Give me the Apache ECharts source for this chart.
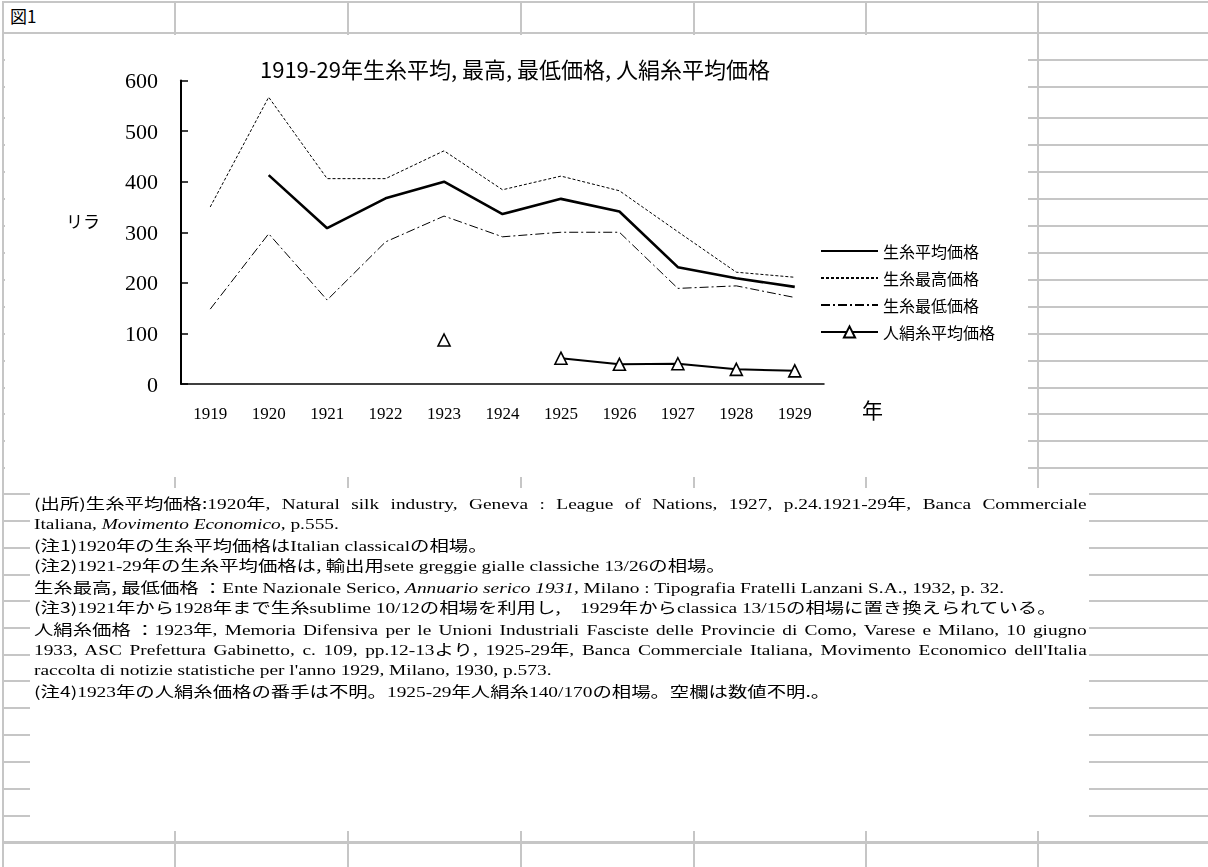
<!DOCTYPE html>
<html><head><meta charset="utf-8">
<script src="https://cdn.jsdelivr.net/npm/echarts@6/dist/echarts.min.js"></script>
<style>
html,body{margin:0;padding:0;background:#fff;}
#wrap{position:relative;width:1208px;height:867px;overflow:hidden;background:#fff;}
.h{position:absolute;background:#c6c6c6;}
.v{position:absolute;background:#c6c6c6;}
#chartbox{position:absolute;left:5px;top:35px;width:1023px;height:442px;background:#fff;}
#notes{position:absolute;left:30px;top:488px;width:1059px;height:343px;background:#fff;}
#notestext{position:absolute;left:4px;top:5px;width:1000px;transform:scale(1.21,0.89);transform-origin:0 0;
  font-family:'Liberation Serif','Noto Sans CJK JP',serif;font-size:16px;color:#000;}
.ln{position:absolute;left:0;height:23.4px;line-height:23.48px;white-space:nowrap;}
.jl{white-space:normal;width:870px;text-align:justify;text-align-last:justify;text-justify:inter-word;}
.g{font-family:'Noto Sans CJK JP',sans-serif;white-space:nowrap;}
.jl .g{display:inline-block;}
#fig{position:absolute;left:10px;top:6px;font-family:'Noto Sans CJK JP',sans-serif;font-size:17px;line-height:20px;color:#000;}
#chart{position:absolute;left:0;top:0;width:1208px;height:867px;}
</style></head>
<body>
<div id="wrap">
  <div id="lines"></div>
  <div id="fig">図1</div>
  <div id="chartbox"></div>
  <div id="notes"><div id="notestext">
<div class="ln jl" style="top:0px"><span class="g">(出所)生糸平均価格:</span>1920<span class="g">年</span>, Natural silk industry, Geneva : League of Nations, 1927, p.24.1921-29<span class="g">年</span>, Banca Commerciale</div>
<div class="ln" style="top:23.48px">Italiana, <i>Movimento Economico</i>, p.555.</div>
<div class="ln" style="top:46.96px"><span class="g">(注1)</span>1920<span class="g">年の生糸平均価格は</span>Italian classical<span class="g">の相場。</span></div>
<div class="ln" style="top:70.44px"><span class="g">(注2)</span>1921-29<span class="g">年の生糸平均価格は, 輸出用</span>sete greggie gialle classiche 13/26<span class="g">の相場。</span></div>
<div class="ln" style="top:93.92px"><span class="g">生糸最高, 最低価格 ：</span>Ente Nazionale Serico, <i>Annuario serico 1931</i>, Milano : Tipografia Fratelli Lanzani S.A., 1932, p. 32.</div>
<div class="ln" style="top:117.4px"><span class="g">(注3)</span>1921<span class="g">年から</span>1928<span class="g">年まで生糸</span>sublime 10/12<span class="g">の相場を利用し,　</span>1929<span class="g">年から</span>classica 13/15<span class="g">の相場に置き換えられている。</span></div>
<div class="ln jl" style="top:140.88px"><span class="g">人絹糸価格 ：</span>1923<span class="g">年</span>, Memoria Difensiva per le Unioni Industriali Fasciste delle Provincie di Como, Varese e Milano, 10 giugno</div>
<div class="ln jl" style="top:164.36px">1933, ASC Prefettura Gabinetto, c. 109, pp.12-13<span class="g">より</span>, 1925-29<span class="g">年</span>, Banca Commerciale Italiana, Movimento Economico dell'Italia</div>
<div class="ln" style="top:187.84px">raccolta di notizie statistiche per l'anno 1929, Milano, 1930, p.573.</div>
<div class="ln" style="top:211.32px"><span class="g">(注4)</span>1923<span class="g">年の人絹糸価格の番手は不明。</span>1925-29<span class="g">年人絹糸</span>140/170<span class="g">の相場。空欄は数値不明.。</span></div>
  </div></div>
  <div id="chart"></div>
</div>
<script>
// ---- data ----
const years = ['1919','1920','1921','1922','1923','1924','1925','1926','1927','1928','1929'];
const silkAvg = [null, 413, 308, 367, 400, 336, 366, 341, 231, 209, 192];
const silkMax = [350, 567, 406, 406, 461, 384, 411, 382, 301, 221, 211];
const silkMin = [148, 297, 166, 281, 332, 291, 300, 300, 189, 194, 171];
const rayonAvg = [null, null, null, null, 87, null, 51, 39, 40, 29, 26];
const seriesNames = ['生糸平均価格','生糸最高価格','生糸最低価格','人絹糸平均価格'];
const titleText = '1919-29年生糸平均, 最高, 最低価格, 人絹糸平均価格';

// ---- spreadsheet grid (decoration) ----
const rowYs = [60, 87, 118, 145, 172, 199, 226, 253, 280, 307, 334, 361, 388, 414, 441, 468,
               494, 521, 548, 575, 601, 628, 655, 681, 708, 735, 762, 789, 816];
const colXs = [175, 348, 521, 694, 866, 1038];
const L = document.getElementById('lines');
function addDiv(cls, l, t, w, h){ const d=document.createElement('div'); d.className=cls;
  d.style.left=l+'px'; d.style.top=t+'px'; d.style.width=w+'px'; d.style.height=h+'px'; L.appendChild(d); }
addDiv('h', 3, 1, 1205, 2);
addDiv('h', 3, 32, 1205, 2);
addDiv('v', 2, 1, 2, 866);
colXs.forEach(x => addDiv('v', x-1, 1, 2, 866));
rowYs.forEach(y => addDiv('h', 3, y-1, 1205, 2));
addDiv('h', 3, 841, 1205, 3);

// ---- chart ----
const chart = echarts.init(document.getElementById('chart'), null, {renderer:'svg'});
const serif = 'Liberation Serif';
const goth = 'Noto Sans CJK JP';
chart.setOption({
  backgroundColor: 'transparent',
  animation: false,
  title: { text: titleText, left: 510, top: 52, textAlign: 'center',
    textStyle: { fontFamily: goth, fontSize: 22, fontWeight: 'normal', color: '#000' } },
  grid: { left: 181, top: 80.5, right: 384, bottom: 483 },
  legend: {
    orient: 'vertical', left: 815, top: 238, itemWidth: 57, itemHeight: 14, itemGap: 11,
    data: seriesNames,
    textStyle: { fontFamily: goth, fontSize: 16, color: '#000' }
  },
  xAxis: {
    type: 'category', data: years, boundaryGap: true,
    axisLine: { lineStyle: { color: '#000', width: 1.5 } },
    axisTick: { inside: true, length: 6, lineStyle: { color: '#000', width: 1.2 } },
    axisLabel: { fontFamily: serif, fontSize: 17, color: '#000', margin: 21 }
  },
  yAxis: {
    type: 'value', min: 0, max: 600, interval: 100,
    splitLine: { show: false },
    axisLine: { show: true, lineStyle: { color: '#000', width: 2 } },
    axisTick: { show: true, inside: true, length: 7, lineStyle: { color: '#000', width: 1.5 } },
    axisLabel: { fontFamily: serif, fontSize: 22, color: '#000', margin: 23, padding: [10, 0, 0, 0] }
  },
  graphic: [
    { type: 'text', left: 66, top: 212, style: { text: 'リラ', fontFamily: goth, fontSize: 17, fill: '#000' } },
    { type: 'text', left: 862, top: 398, style: { text: '年', fontFamily: goth, fontSize: 21, fill: '#000' } }
  ],
  series: [
    { name: seriesNames[0], type: 'line', data: silkAvg, symbol: 'none',
      lineStyle: { color: '#000', width: 2.6, type: 'solid' }, itemStyle: { color: '#000', opacity: 0 } },
    { name: seriesNames[1], type: 'line', data: silkMax, symbol: 'none',
      lineStyle: { color: '#000', width: 1, type: [3, 2] }, itemStyle: { color: '#000', opacity: 0 } },
    { name: seriesNames[2], type: 'line', data: silkMin, symbol: 'none',
      lineStyle: { color: '#000', width: 1, type: [9, 3, 2, 3] }, itemStyle: { color: '#000', opacity: 0 } },
    { name: seriesNames[3], type: 'line', data: rayonAvg, symbol: 'triangle', symbolSize: 12,
      showSymbol: true, showAllSymbol: true, connectNulls: false,
      lineStyle: { color: '#000', width: 2 },
      itemStyle: { color: '#fff', borderColor: '#000', borderWidth: 1.6 } }
  ]
});
</script>
</body></html>
